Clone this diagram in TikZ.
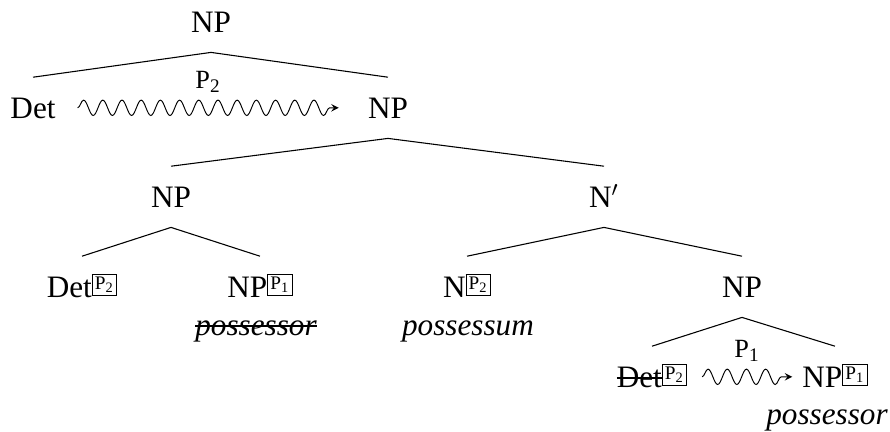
\documentclass[tikz,border=0pt,12pt]{standalone}
\usepackage{fontspec}
\setmainfont{Liberation Serif}
\usepackage{tikz}
\usetikzlibrary{arrows,decorations.pathmorphing}

\newcommand{\pidx}[1]{\raisebox{3pt}{\fboxsep=0.9pt\fboxrule=0.4pt\fbox{\scriptsize P\textsubscript{#1}}}}
\newcommand{\strikeout}[1]{\setbox0=\hbox{#1}\rlap{\rule[0.27em]{\wd0}{0.5pt}}\box0}

\tikzset{
  tnode/.style={anchor=base, text height=8.5pt, text depth=0pt, inner xsep=2pt, inner ysep=8.3pt, font=\fontsize{13}{15}\selectfont},
  tword/.style={anchor=base, inner sep=0pt, font=\fontsize{13}{15}\selectfont\itshape},
  branch/.style={line width=0.45pt},
  wavy/.style={decorate, decoration={snake, amplitude=3.2pt, segment length=8pt, post length=2pt}, -stealth},
  wlabel/.style={midway, above=2pt, font=\small}
}

\begin{document}
\begin{tikzpicture}[x=0.4167pt, y=-0.4167pt]
      \useasboundingbox (0, 0) rectangle (890, 431);
      \node[tnode] (np0) at (211, 32) {NP};
      \node[tnode] (det1) at (33, 118) {Det};
      \node[tnode] (np1) at (388, 118) {NP};
      \node[tnode] (np2) at (171, 207) {NP};
      \node[tnode] (nbar2) at (604, 207) {N$'$};
      \node[tnode] (det3) at (82, 297) {Det\pidx{2}};
      \node[tnode] (np3) at (260, 297) {NP\pidx{1}};
      \node[tnode] (n3) at (467, 297) {N\pidx{2}};
      \node[tnode] (np3r) at (742, 297) {NP};
      \node[tnode] (det4) at (652, 387) {\strikeout{Det}\pidx{2}};
      \node[tnode] (np4) at (835, 387) {NP\pidx{1}};
      \node[tword] (poss3) at (256, 335) {\strikeout{possessor}};
      \node[tword] (possm3) at (468, 335) {possessum};
      \node[tword] (poss4) at (827, 424) {possessor};
      \draw[branch] (det1.north) -- (np0.south) -- (np1.north);
      \draw[branch] (np2.north) -- (np1.south) -- (nbar2.north);
      \draw[branch] (det3.north) -- (np2.south) -- (np3.north);
      \draw[branch] (n3.north) -- (nbar2.south) -- (np3r.north);
      \draw[branch] (det4.north) -- (np3r.south) -- (np4.north);
      \draw[wavy] ([xshift=7pt]det1.east) -- ([xshift=-10pt]np1.west) node[wlabel] {P\textsubscript{2}};
      \draw[wavy] ([xshift=4pt]det4.east) -- ([xshift=-2pt]np4.west) node[wlabel] {P\textsubscript{1}};
    \end{tikzpicture}
\end{document}
